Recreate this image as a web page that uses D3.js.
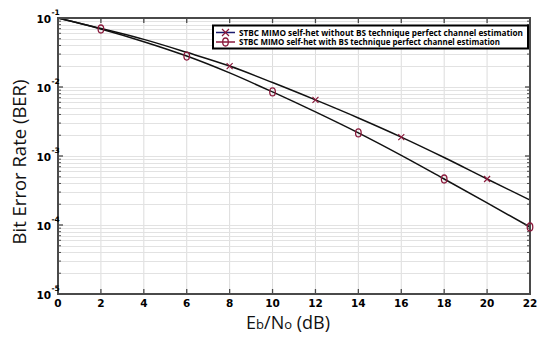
<!DOCTYPE html>
<html><head><meta charset="utf-8">
<script src="https://cdn.jsdelivr.net/npm/d3@7"></script>
<style>html,body{margin:0;padding:0;background:#fff;}svg{display:block;}</style>
</head><body>
<svg id="chart" width="550" height="339"></svg>
<script>
const snrDb = [0, 2, 4, 6, 8, 10, 12, 14, 16, 18, 20, 22];
const berWithoutBS = [0.1, 0.0705, 0.049, 0.0318, 0.0201, 0.0116, 0.0065, 0.00356, 0.00188, 0.00095, 0.000464, 0.00023];
const berWithBS = [0.1, 0.0693, 0.0454, 0.0281, 0.016, 0.00848, 0.00435, 0.00216, 0.00102, 0.000464, 0.000209, 0.0000935];
const markerSnrWithout = [8, 12, 16, 20];
const markerSnrWith = [2, 6, 10, 14, 18, 22];
const xTicks = [0, 2, 4, 6, 8, 10, 12, 14, 16, 18, 20, 22];
const yDecadeExponents = [-1, -2, -3, -4, -5];
const legendLabels = [
  "STBC MIMO self-het without BS technique perfect channel estimation",
  "STBC MIMO self-het with BS technique perfect channel estimation"
];

const svg = d3.select("#chart");
const L = 58, R = 530, T = 18, B = 294;
const x = d3.scaleLinear().domain([0, 22]).range([L, R]);
const y = d3.scaleLog().domain([1e-5, 1e-1]).range([B, T]);
const markColor = "#8b1a3c";

const minorVals = [];
for (let e = -5; e < -1; e++) for (let m = 2; m <= 9; m++) minorVals.push(m * Math.pow(10, e));
const decadeVals = yDecadeExponents.map(e => Math.pow(10, e));

// grid
const g = svg.append("g");
g.selectAll(".vg").data(xTicks.slice(1, -1)).enter().append("line")
  .attr("x1", d => x(d)).attr("x2", d => x(d)).attr("y1", T).attr("y2", B)
  .attr("stroke", "#dcdcdc").attr("stroke-width", 1);
g.selectAll(".hg").data(minorVals.concat(decadeVals.slice(1, -1))).enter().append("line")
  .attr("x1", L).attr("x2", R).attr("y1", d => Math.round(y(d)) + 0.5).attr("y2", d => Math.round(y(d)) + 0.5)
  .attr("stroke", "#e2e2e2").attr("stroke-width", 1);

// curves
const line = d3.line().x((d, i) => x(snrDb[i])).y(d => y(d)).curve(d3.curveMonotoneX);
svg.append("path").attr("d", line(berWithoutBS)).attr("fill", "none").attr("stroke", "#111").attr("stroke-width", 1.5);
svg.append("path").attr("d", line(berWithBS)).attr("fill", "none").attr("stroke", "#111").attr("stroke-width", 1.5);

// axes frame
const axisColor = "#4a4a4a";
svg.append("rect").attr("x", L).attr("y", T).attr("width", R - L).attr("height", B - T)
  .attr("fill", "none").attr("stroke", axisColor).attr("stroke-width", 2);

svg.selectAll(".xtb").data(xTicks).enter().append("line")
  .attr("x1", d => x(d)).attr("x2", d => x(d)).attr("y1", B).attr("y2", B - 5)
  .attr("stroke", axisColor).attr("stroke-width", 1.3);
svg.selectAll(".xtt").data(xTicks).enter().append("line")
  .attr("x1", d => x(d)).attr("x2", d => x(d)).attr("y1", T).attr("y2", T + 5)
  .attr("stroke", axisColor).attr("stroke-width", 1.3);
[[L, 1], [R, -1]].forEach(([px, dir]) => {
  svg.selectAll(null).data(decadeVals).enter().append("line")
    .attr("x1", px).attr("x2", px + dir * 5).attr("y1", d => y(d)).attr("y2", d => y(d))
    .attr("stroke", axisColor).attr("stroke-width", 1.3);
  svg.selectAll(null).data(minorVals).enter().append("line")
    .attr("x1", px).attr("x2", px + dir * 3).attr("y1", d => y(d)).attr("y2", d => y(d))
    .attr("stroke", axisColor).attr("stroke-width", 1);
});

// x tick labels
svg.selectAll(".xl").data(xTicks).enter().append("text")
  .attr("x", d => x(d)).attr("y", B + 13).attr("text-anchor", "middle")
  .attr("font-family", "DejaVu Sans").attr("font-weight", "bold").attr("font-size", 10.5)
  .text(d => d);
// y tick labels
svg.selectAll(".yl").data(yDecadeExponents).enter().append("text")
  .attr("x", 51).attr("y", d => y(Math.pow(10, d)) + 5).attr("text-anchor", "end")
  .attr("font-family", "DejaVu Sans").attr("font-weight", "bold").attr("font-size", 10.5)
  .text("10");
svg.selectAll(".ye").data(yDecadeExponents).enter().append("text")
  .attr("x", 51.5).attr("y", d => y(Math.pow(10, d)) - 3)
  .attr("font-family", "DejaVu Sans").attr("font-weight", "bold").attr("font-size", 7.5)
  .text(d => "-" + Math.abs(d));

// markers
const xMark = (sel, cx, cy, s, col) => {
  sel.append("path").attr("d", `M${cx - s},${cy - s}L${cx + s},${cy + s}M${cx - s},${cy + s}L${cx + s},${cy - s}`)
    .attr("stroke", col).attr("stroke-width", 1.2).attr("fill", "none");
};
const oMark = (sel, cx, cy, col) => {
  sel.append("ellipse").attr("cx", cx).attr("cy", cy).attr("rx", 2.8).attr("ry", 4)
    .attr("stroke", col).attr("stroke-width", 1.3).attr("fill", "none");
};
markerSnrWithout.forEach(s => {
  const i = snrDb.indexOf(s);
  xMark(svg, x(s), y(berWithoutBS[i]), 3, markColor);
});
markerSnrWith.forEach(s => {
  const i = snrDb.indexOf(s);
  oMark(svg, x(s), y(berWithBS[i]), markColor);
});

// legend
const lg = svg.append("g");
lg.append("rect").attr("x", 213).attr("y", 25.5).attr("width", 315).attr("height", 23)
  .attr("fill", "#fff").attr("stroke", "#000").attr("stroke-width", 2);
lg.append("line").attr("x1", 216).attr("x2", 235).attr("y1", 32.5).attr("y2", 32.5).attr("stroke", "#1c1c6e").attr("stroke-width", 1.5);
xMark(lg, 225.5, 32.5, 3.5, markColor);
lg.append("line").attr("x1", 216).attr("x2", 235).attr("y1", 42).attr("y2", 42).attr("stroke", markColor).attr("stroke-width", 1.5);
oMark(lg, 225.5, 42, markColor);
legendLabels.forEach((t, i) => {
  lg.append("text").attr("x", 239).attr("y", 35.5 + i * 9.7)
    .attr("font-family", "Open Sans").attr("font-weight", "bold").attr("font-size", 8)
    .attr("textLength", i === 0 ? 284 : 261).attr("lengthAdjust", "spacingAndGlyphs")
    .text(t);
});

// axis titles
svg.append("text").attr("transform", "translate(26,162) rotate(-90)").attr("text-anchor", "middle")
  .attr("font-family", "Open Sans").attr("font-size", 18.5).attr("fill", "#111")
  .text("Bit Error Rate (BER)");
const xt = svg.append("text").attr("x", 288).attr("y", 329).attr("text-anchor", "middle")
  .attr("font-family", "Open Sans").attr("font-size", 18).attr("fill", "#111");
xt.append("tspan").text("E");
xt.append("tspan").attr("font-size", 13).text("b");
xt.append("tspan").text("/N");
xt.append("tspan").attr("font-size", 13).text("o");
xt.append("tspan").text(" (dB)");
</script>
</body></html>
